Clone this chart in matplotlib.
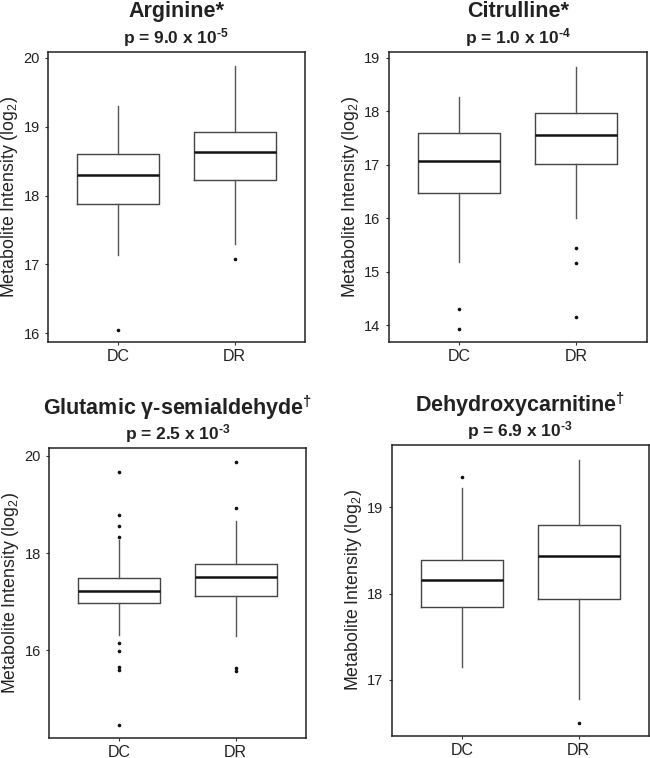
import matplotlib
matplotlib.use("Agg")
import matplotlib.pyplot as plt

plt.rcParams['font.family'] = ['Liberation Sans', 'DejaVu Sans']
plt.rcParams['mathtext.default'] = 'regular'

groups = ["DC", "DR"]

# box stats per metabolite: whislo, q1, med, q3, whishi
arginine_dc = [17.13, 17.87, 18.30, 18.61, 19.30]
arginine_dr = [17.30, 18.23, 18.64, 18.92, 19.88]
arginine_dc_out = [16.05]
arginine_dr_out = [17.08]

citrulline_dc = [15.18, 16.48, 17.07, 17.60, 18.26]
citrulline_dr = [16.00, 17.02, 17.55, 17.97, 18.83]
citrulline_dc_out = [14.31, 13.93]
citrulline_dr_out = [15.45, 15.16, 14.16]

glutamic_dc = [16.32, 16.97, 17.23, 17.49, 18.28]
glutamic_dr = [16.30, 17.13, 17.51, 17.77, 18.67]
glutamic_dc_out = [19.66, 18.79, 18.55, 18.34, 16.15, 15.98, 15.67, 15.59, 14.46]
glutamic_dr_out = [19.88, 18.92, 15.63, 15.57]

dehydroxy_dc = [17.15, 17.84, 18.16, 18.39, 19.22]
dehydroxy_dr = [16.78, 17.94, 18.43, 18.79, 19.55]
dehydroxy_dc_out = [19.35]
dehydroxy_dr_out = [16.50]

titles = ["Arginine*", "Citrulline*",
          "Glutamic γ-semialdehyde$^{†}$", "Dehydroxycarnitine$^{†}$"]
pvals = ["p = 9.0 x 10$^{‐5}$", "p = 1.0 x 10$^{‐4}$",
         "p = 2.5 x 10$^{‐3}$", "p = 6.9 x 10$^{‐3}$"]
yticks = [[16, 17, 18, 19, 20], [14, 15, 16, 17, 18, 19], [16, 18, 20], [17, 18, 19]]
ylims = [(15.87, 20.087), (13.69, 19.11), (14.20, 20.17), (16.35, 19.72)]

panels = [
    (arginine_dc, arginine_dc_out, arginine_dr, arginine_dr_out),
    (citrulline_dc, citrulline_dc_out, citrulline_dr, citrulline_dr_out),
    (glutamic_dc, glutamic_dc_out, glutamic_dr, glutamic_dr_out),
    (dehydroxy_dc, dehydroxy_dc_out, dehydroxy_dr, dehydroxy_dr_out),
]

positions = [
    [0.0738, 0.5488, 0.395, 0.3826],
    [0.598, 0.5488, 0.397, 0.3826],
    [0.0754, 0.0264, 0.395, 0.383],
    [0.603, 0.029, 0.395, 0.384],
]


def make_stats(vals, out, label):
    return dict(whislo=vals[0], q1=vals[1], med=vals[2], q3=vals[3],
                whishi=vals[4], fliers=out, label=label)


fig = plt.figure(figsize=(6.5, 7.58), dpi=100)

for i, (dc, dc_out, dr, dr_out) in enumerate(panels):
    ax = fig.add_axes(positions[i])
    stats = [make_stats(dc, dc_out, groups[0]), make_stats(dr, dr_out, groups[1])]
    ax.bxp(stats, positions=[1, 2], widths=0.7, showcaps=False,
           boxprops=dict(color="#444444", linewidth=1.0),
           whiskerprops=dict(color="#555555", linewidth=1.0),
           medianprops=dict(color="#111111", linewidth=1.8),
           flierprops=dict(marker="o", markersize=1.6, markerfacecolor="#111111",
                           markeredgecolor="#111111", linestyle="none"))
    ax.set_xlim(0.4, 2.6)
    ax.set_ylim(*ylims[i])
    ax.set_yticks(yticks[i])
    ax.set_xticks([1, 2])
    ax.set_xticklabels(groups)
    ax.tick_params(axis="y", labelsize=10.5, length=2.5, pad=3.5, color="#333333", labelcolor="#222222")
    ax.tick_params(axis="x", labelsize=11.5, length=2.5, pad=2.5, color="#333333", labelcolor="#222222")
    for sp in ax.spines.values():
        sp.set_color("#222222")
        sp.set_linewidth(1.1)
    ax.set_ylabel("Metabolite Intensity (log$_2$)", fontsize=12.8, color="#222222")
    ax.yaxis.set_label_coords(-0.108, 0.5)
    ax.annotate(titles[i], xy=(0.5, 1), xycoords="axes fraction",
                xytext=(0, 29), textcoords="offset points",
                ha="center", va="center", fontsize=15.5, fontweight="bold", color="#222222")
    ax.annotate(pvals[i], xy=(0.5, 1), xycoords="axes fraction",
                xytext=(0, 10.5), textcoords="offset points",
                ha="center", va="center", fontsize=12.5, fontweight="bold", color="#222222")

fig.savefig("out.png", dpi=100, facecolor="white")
